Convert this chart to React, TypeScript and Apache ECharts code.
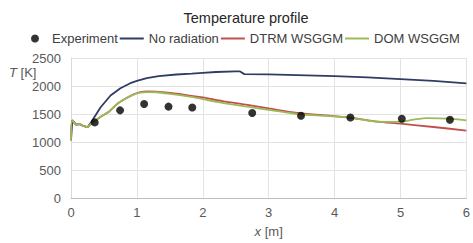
import React, { useEffect, useRef } from "react";
import * as echarts from "echarts";

const xTicks = [0, 1, 2, 3, 4, 5, 6];
const yTicks = [0, 500, 1000, 1500, 2000, 2500];

const experiment: [number, number][] = [
  [0.36, 1350], [0.745, 1565], [1.11, 1678], [1.48, 1632], [1.84, 1615],
  [2.75, 1517], [3.49, 1468], [4.24, 1437], [5.02, 1414], [5.75, 1398],
];

const noRadiation: [number, number][] = [
  [0, 1030], [0.02, 1385], [0.08, 1310], [0.13, 1320], [0.18, 1290], [0.25, 1265],
  [0.3, 1345], [0.45, 1620], [0.6, 1830], [0.75, 1960], [0.9, 2050], [1.0, 2090],
  [1.15, 2140], [1.33, 2175], [1.6, 2205], [1.83, 2222], [2.0, 2235], [2.2, 2250],
  [2.5, 2262], [2.56, 2262], [2.63, 2212], [3.0, 2207], [3.43, 2195], [4.0, 2178],
  [4.5, 2155], [5.0, 2122], [5.5, 2090], [6.0, 2047],
];

const dtrm: [number, number][] = [
  [0, 1030], [0.02, 1385], [0.08, 1310], [0.13, 1320], [0.18, 1290], [0.25, 1265],
  [0.3, 1320], [0.36, 1374], [0.45, 1450], [0.58, 1546], [0.7, 1680], [0.83, 1776],
  [0.95, 1850], [1.05, 1890], [1.16, 1902], [1.3, 1898], [1.5, 1875], [1.8, 1830],
  [2.0, 1795], [2.3, 1730], [2.68, 1661], [3.0, 1600], [3.43, 1520], [3.88, 1475],
  [4.24, 1433], [4.65, 1365], [5.0, 1328], [5.5, 1268], [6.0, 1205],
];

const dom: [number, number][] = [
  [0, 1030], [0.02, 1385], [0.08, 1310], [0.13, 1320], [0.18, 1290], [0.25, 1265],
  [0.3, 1320], [0.36, 1374], [0.45, 1450], [0.58, 1546], [0.7, 1680], [0.83, 1776],
  [0.95, 1845], [1.05, 1880], [1.16, 1892], [1.3, 1888], [1.5, 1860], [1.8, 1810],
  [2.0, 1765], [2.3, 1700], [2.68, 1630], [3.0, 1575], [3.43, 1500], [3.88, 1465],
  [4.24, 1435], [4.65, 1362], [4.98, 1358], [5.2, 1400], [5.4, 1428], [5.73, 1418],
  [6.0, 1387],
];

const labelColor = "#595959";
const font = "Arial, 'Liberation Sans', sans-serif";
const lineIcon = "path://M0,0L24,0L24,2L0,2Z";

export default function App() {
  const ref = useRef<HTMLDivElement>(null);
  useEffect(() => {
    if (!ref.current) return;
    const chart = echarts.init(ref.current, undefined, { renderer: "svg" });
    chart.setOption({
      animation: false,
      textStyle: { fontFamily: font },
      title: {
        text: "Temperature profile",
        left: 241,
        textAlign: "center",
        top: 5,
        textStyle: { fontFamily: font, fontSize: 14.5, fontWeight: "normal", color: "#262626" },
      },
      legend: {
        left: 26,
        top: 27,
        itemWidth: 24,
        itemHeight: 8,
        itemGap: 2,
        textStyle: { fontFamily: font, fontSize: 13, color: "#404040" },
        data: [
          { name: "Experiment", icon: "circle" },
          { name: "No radiation", icon: lineIcon },
          { name: "DTRM WSGGM", icon: lineIcon },
          { name: "DOM WSGGM", icon: lineIcon },
        ],
      },
      grid: { left: 71, right: 0, top: 58, bottom: 40 },
      xAxis: {
        type: "value",
        min: xTicks[0],
        max: xTicks[xTicks.length - 1],
        interval: 1,
        name: "{i|x} [m]",
        nameLocation: "middle",
        nameGap: 27,
        nameTextStyle: {
          fontFamily: font,
          fontSize: 13,
          color: labelColor,
          rich: { i: { fontStyle: "italic", fontFamily: font, fontSize: 13, color: labelColor } },
        },
        axisLine: { show: true, lineStyle: { color: "#bfbfbf" } },
        axisTick: { show: false },
        axisLabel: { fontFamily: font, fontSize: 13, color: labelColor, margin: 8 },
        splitLine: { show: true, lineStyle: { color: "#e3e3e3" } },
      },
      yAxis: {
        type: "value",
        min: yTicks[0],
        max: yTicks[yTicks.length - 1],
        interval: 500,
        axisLine: { show: true, lineStyle: { color: "#d9d9d9" } },
        axisTick: { show: false },
        axisLabel: {
          fontFamily: font,
          fontSize: 13,
          color: labelColor,
          margin: 10,
          formatter: (v: number) => String(v),
        },
        splitLine: { show: true, lineStyle: { color: "#e3e3e3" } },
      },
      graphic: [
        {
          type: "text",
          left: 9,
          top: 66,
          style: {
            text: "{i|T} [K]",
            fontFamily: font,
            fontSize: 13,
            fill: labelColor,
            rich: { i: { fontStyle: "italic", fontFamily: font, fontSize: 13, fill: labelColor } },
          },
        },
      ],
      series: [
        {
          name: "No radiation",
          type: "line",
          data: noRadiation,
          showSymbol: false,
          symbol: "none",
          lineStyle: { color: "#2f3d64", width: 1.8 },
          itemStyle: { color: "#2f3d64" },
          z: 3,
        },
        {
          name: "DTRM WSGGM",
          type: "line",
          data: dtrm,
          showSymbol: false,
          symbol: "none",
          smooth: 0.3,
          lineStyle: { color: "#c0504d", width: 1.8 },
          itemStyle: { color: "#c0504d" },
          z: 3,
        },
        {
          name: "DOM WSGGM",
          type: "line",
          data: dom,
          showSymbol: false,
          symbol: "none",
          smooth: 0.3,
          lineStyle: { color: "#9bbb59", width: 1.8 },
          itemStyle: { color: "#9bbb59" },
          z: 4,
        },
        {
          name: "Experiment",
          type: "scatter",
          data: experiment,
          symbol: "circle",
          symbolSize: 8,
          itemStyle: { color: "#000000" },
          z: 5,
        },
      ],
    });
    return () => chart.dispose();
  }, []);
  return <div ref={ref} style={{ width: 473, height: 243, position: "absolute", left: 0, top: 0 }} />;
}
